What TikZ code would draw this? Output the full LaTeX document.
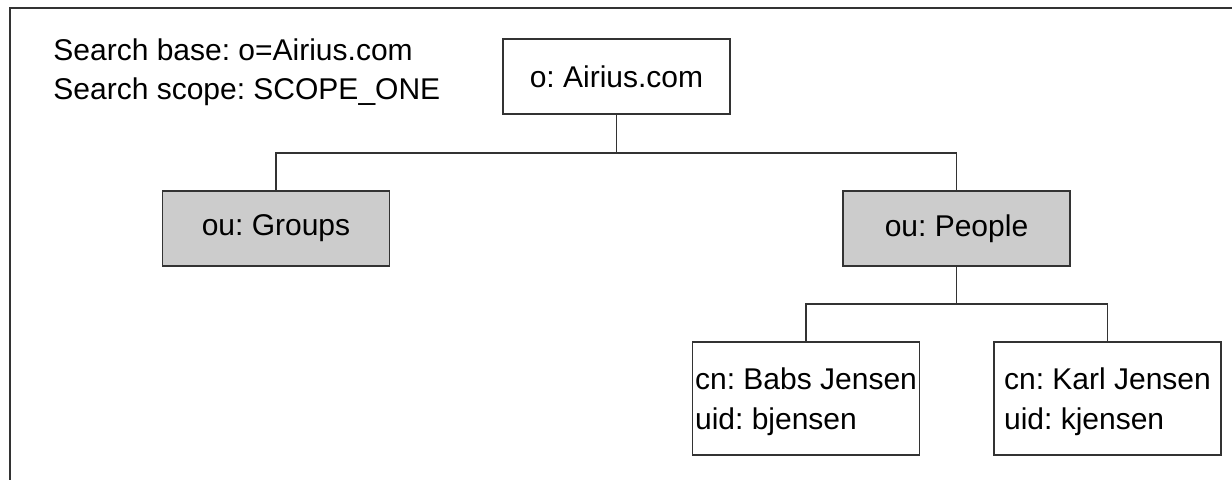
\documentclass[tikz,border=0pt]{standalone}
\usepackage{fontspec}
\setmainfont{Liberation Sans}
\usepackage{tikz}

\definecolor{edgegray}{HTML}{333333}
\definecolor{boxgray}{HTML}{CCCCCC}
\tikzset{
	entry/.style={draw=edgegray, line width=0.7pt, fill=white, minimum width=113.5pt, minimum height=37.5pt, inner sep=1pt, font=\fontsize{15pt}{20pt}\selectfont},
	shaded/.style={entry, fill=boxgray},
	leaf/.style={entry, minimum height=56.5pt, align=left, text depth=0pt},
	label/.style={inner sep=0pt, font=\fontsize{15pt}{20pt}\selectfont}
}

\begin{document}
\frenchspacing
\begin{tikzpicture}[x=0.5pt, y=-0.5pt]
	\useasboundingbox (0,0) rectangle (1232,480);
	\draw[edgegray, line width=1pt] (10,480) -- (10,8.5) -- (1232,8.5);
	\node[label, anchor=base west] (searchbase) at (53,61) {Search base: o=Airius.com};
	\node[label, anchor=base west] (searchscope) at (53,100) {Search scope: SCOPE\_ONE};
	\node[entry] (root) at (616.5,76.5) {o: Airius.com};
	\node[shaded] (groups) at (276,228.5) {ou: Groups};
	\node[shaded] (people) at (956.5,228.5) {ou: People};
	\node[leaf] (babs) at (806,398.5) {cn: Babs Jensen\\uid: bjensen};
	\node[leaf] (karl) at (1107.5,398.5) {cn: Karl Jensen\\uid: kjensen};
	\coordinate (split1) at (616.5,153);
	\coordinate (split2) at (956.5,304);
	\draw[edgegray, line width=0.7pt] (root) -- (split1);
	\draw[edgegray, line width=0.7pt] (groups.north) |- (split1) -| (people.north);
	\draw[edgegray, line width=0.7pt] (people) -- (split2);
	\draw[edgegray, line width=0.7pt] (babs.north) |- (split2) -| (karl.north);
\end{tikzpicture}
\end{document}
